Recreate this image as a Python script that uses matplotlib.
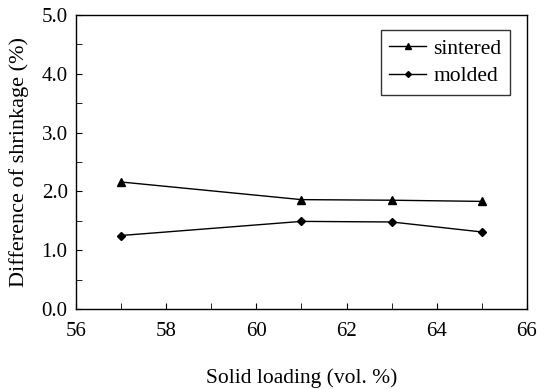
import matplotlib
matplotlib.use("Agg")
import matplotlib.pyplot as plt
from matplotlib.ticker import MultipleLocator, FormatStrFormatter

solid_loading = [57, 61, 63, 65]
sintered = [2.16, 1.86, 1.85, 1.83]
molded = [1.25, 1.49, 1.48, 1.31]

plt.rcParams['font.family'] = ['Liberation Serif', 'DejaVu Serif']

fig = plt.figure(figsize=(5.37, 3.89), dpi=100)
ax = fig.add_axes([76/537, 1-309/389, (527-76)/537, (309-15)/389])

ax.plot(solid_loading, sintered, color='black', lw=1, marker='^', ms=6, label='sintered')
ax.plot(solid_loading, molded, color='black', lw=1, marker='D', ms=4, label='molded')

ax.set_xlim(56, 66)
ax.set_ylim(0, 5)
ax.xaxis.set_major_locator(MultipleLocator(2))
ax.xaxis.set_minor_locator(MultipleLocator(1))
ax.yaxis.set_major_locator(MultipleLocator(1))
ax.yaxis.set_minor_locator(MultipleLocator(0.5))
ax.yaxis.set_major_formatter(FormatStrFormatter('%.1f'))
ax.tick_params(which='both', direction='in', top=False, right=False, labelsize=15, color='black')
ax.tick_params(which='both', length=4)
ax.tick_params(axis='x', pad=9)
ax.tick_params(axis='y', pad=6)
for s in ax.spines.values():
    s.set_linewidth(1)
    s.set_color('black')

ax.set_xlabel('Solid loading (vol. %)', fontsize=15.5, labelpad=20)
ax.set_ylabel('Difference of shrinkage (%)', fontsize=16, labelpad=9)

leg = ax.legend(loc='upper right', bbox_to_anchor=(0.962, 0.949), fontsize=15.5, frameon=True,
                fancybox=False, edgecolor='black', handlelength=1.7, handletextpad=0.33,
                borderpad=0.4, labelspacing=0.35, markerscale=0.75, borderaxespad=0)
leg.get_frame().set_linewidth(1)

fig.savefig('out.png', dpi=100)
